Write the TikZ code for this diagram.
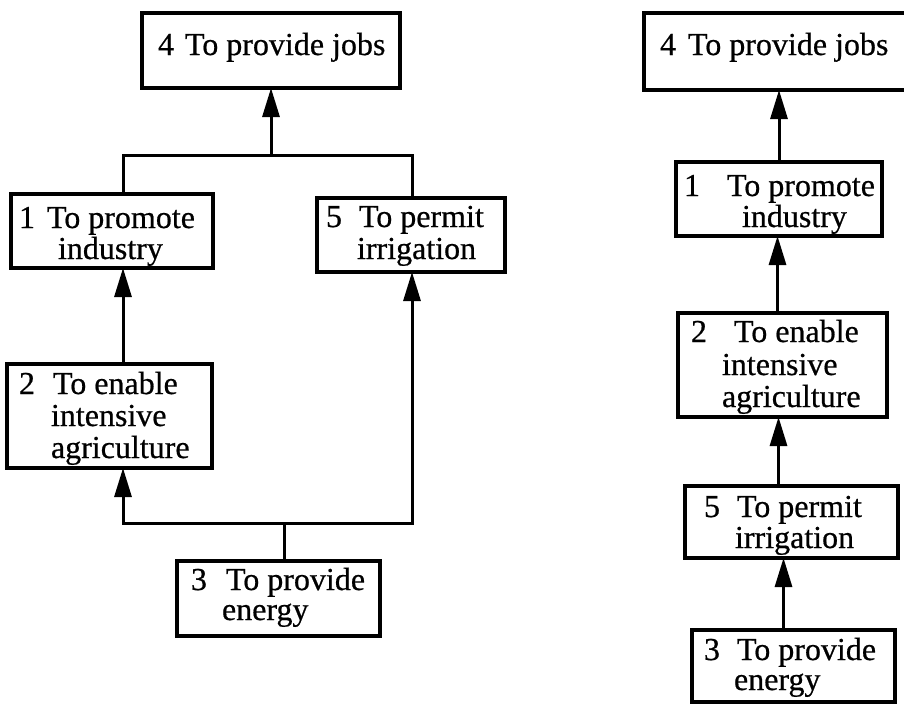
\documentclass[tikz,border=0pt]{standalone}
\usepackage{fontspec}
\setmainfont{Liberation Serif}[FakeBold=0.6]
\usetikzlibrary{arrows.meta}
\begin{document}
\begin{tikzpicture}[x=1pt,y=-1pt,
  gbox/.style={draw=black, line width=3.2pt, rectangle, inner sep=0pt, outer sep=0pt, anchor=north west},
  txt/.style={anchor=base west, inner sep=0pt, outer sep=0pt, font=\fontsize{32}{32}\selectfont},
  link/.style={draw=black, line width=3pt},
  arr/.style={link, -{Triangle[length=29pt, width=17pt]}}]
\useasboundingbox (0,0) rectangle (904,704);

% ---- left: branching hierarchy ----
\node[gbox, minimum width=258pt, minimum height=75pt] (L4) at (142,13) {};
\node[txt] (L4a) at (158,55) {4};
\node[txt] (L4b) at (185,55) {To provide jobs};

\node[gbox, minimum width=202pt, minimum height=74pt] (L1) at (11,194) {};
\node[txt] (L1a) at (19,228) {1};
\node[txt] (L1b) at (47,228) {To promote};
\node[txt] (L1c) at (58,259) {industry};

\node[gbox, minimum width=188pt, minimum height=74pt] (L5) at (317,198) {};
\node[txt] (L5a) at (326,227) {5};
\node[txt] (L5b) at (359,227) {To permit};
\node[txt] (L5c) at (357,259) {irrigation};

\node[gbox, minimum width=205pt, minimum height=104pt] (L2) at (7,364) {};
\node[txt] (L2a) at (19,394) {2};
\node[txt] (L2b) at (53,394) {To enable};
\node[txt] (L2c) at (51,426) {intensive};
\node[txt] (L2d) at (51,458) {agriculture};

\node[gbox, minimum width=203pt, minimum height=75pt] (L3) at (177,561) {};
\node[txt] (L3a) at (191,590) {3};
\node[txt] (L3b) at (226,590) {To provide};
\node[txt] (L3c) at (222,620) {energy};

\coordinate (c1) at (123,155);
\coordinate (c5) at (412,155);
\coordinate (c3) at (284,523);

\draw[link] (L1.north -| c1) -- (c1) -- (c5) -- (L5.north -| c5);
\draw[arr] (L4.south |- c1) -- (L4.south);
\draw[arr] (L2.north -| c1) -- (L1.south -| c1);
\draw[link] (L3.north -| c3) -- (c3);
\draw[arr] (c3) -| (L2.south -| c1);
\draw[arr] (c3) -| (L5.south -| c5);

% ---- right: single chain ----
\node[gbox, minimum width=300pt, minimum height=77pt] (R4) at (644,13) {};
\node[txt] (R4a) at (660,55) {4};
\node[txt] (R4b) at (688,55) {To provide jobs};

\node[gbox, minimum width=206pt, minimum height=74pt] (R1) at (676,162) {};
\node[txt] (R1a) at (684,196) {1};
\node[txt] (R1b) at (727,196) {To promote};
\node[txt] (R1c) at (742,227) {industry};

\node[gbox, minimum width=209pt, minimum height=104pt] (R2) at (678,313) {};
\node[txt] (R2a) at (691,342) {2};
\node[txt] (R2b) at (734,342) {To enable};
\node[txt] (R2c) at (722,375) {intensive};
\node[txt] (R2d) at (722,407) {agriculture};

\node[gbox, minimum width=213pt, minimum height=72pt] (R5) at (685,486) {};
\node[txt] (R5a) at (704,517) {5};
\node[txt] (R5b) at (737,517) {To permit};
\node[txt] (R5c) at (735,548) {irrigation};

\node[gbox, minimum width=203pt, minimum height=72pt] (R3) at (692,630) {};
\node[txt] (R3a) at (704,660) {3};
\node[txt] (R3b) at (737,660) {To provide};
\node[txt] (R3c) at (734,690) {energy};

\draw[arr] (R1.north) -- (R1.north |- R4.south);
\draw[arr] ([xshift=-5pt]R2.north) -- ([xshift=-5pt]R2.north |- R1.south);
\draw[arr] ([xshift=-13pt]R5.north) -- ([xshift=-13pt]R5.north |- R2.south);
\draw[arr] ([xshift=-10pt]R3.north) -- ([xshift=-10pt]R3.north |- R5.south);
\end{tikzpicture}
\end{document}
